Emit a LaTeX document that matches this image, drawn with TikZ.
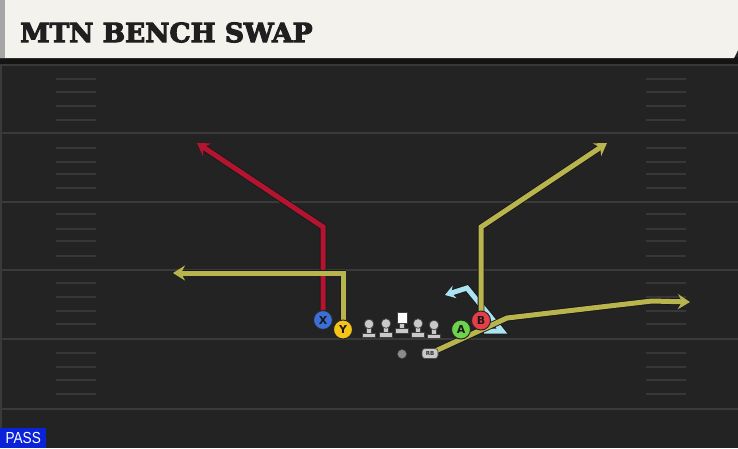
\documentclass[tikz,border=0pt]{standalone}
\usepackage{fontspec}
\usetikzlibrary{arrows.meta}
\setmainfont{DejaVu Sans}
\newfontfamily\titlefont[BoldFeatures={FakeBold=4}]{DejaVu Serif}
\newfontfamily\passfont{Liberation Sans}
\definecolor{fieldbg}{HTML}{232323}
\definecolor{yardline}{HTML}{3A3A3A}
\definecolor{hashc}{HTML}{373737}
\definecolor{headerbg}{HTML}{F4F2EC}
\definecolor{routered}{HTML}{B3142F}
\definecolor{routeyel}{HTML}{B9B54E}
\definecolor{routecyan}{HTML}{ABE3F2}
\definecolor{xblue}{HTML}{3C6FD6}
\definecolor{yyellow}{HTML}{F4C418}
\definecolor{agreen}{HTML}{6CD34B}
\definecolor{bred}{HTML}{E63E48}
\definecolor{lmgray}{HTML}{C9C9C9}
\definecolor{passblue}{HTML}{0A22D8}
\pgfdeclarelayer{fieldlayer}
\pgfdeclarelayer{routelayer}
\pgfsetlayers{fieldlayer,routelayer,main}
\tikzset{
  yard/.style={draw=yardline, line width=2pt},
  hashmark/.style={draw=hashc, line width=1.8pt},
  route/.style={line width=5pt, line join=miter, line cap=butt,
    preaction={draw=black!90, line width=6.8pt}},
  tip/.style={-{Stealth[length=12pt,width=15pt,inset=4pt]}},
  smalltip/.style={-{Stealth[length=10pt,width=13pt,inset=3.5pt]}},
  player/.style={circle, draw=black!85, line width=1pt, minimum size=19pt,
    inner sep=0pt, text=black!90, font=\bfseries\fontsize{11}{11}\selectfont},
  lm/.style={fill=lmgray, draw=black!75, line width=0.7pt},
  lineman/.pic={
    \filldraw[lm] (-6.5,0) rectangle (6.5,-4.5);
    \filldraw[lm] (-2.5,-4.5) rectangle (2.5,-11);
    \filldraw[lm] (0,-13.5) circle (4.8pt);
  },
  centerman/.pic={
    \filldraw[lm] (-6.5,0) rectangle (6.5,-4.5);
    \filldraw[lm] (-2.5,-4.5) rectangle (2.5,-10);
    \filldraw[fill=white, draw=black!75, line width=0.7pt] (-5,-10) rectangle (5,-20.5);
  }
}
\begin{document}
\begin{tikzpicture}[x=1pt,y=-1pt]
\useasboundingbox (0,0) rectangle (738,448);
\begin{pgfonlayer}{fieldlayer}
  % field
  \fill[fieldbg] (0,0) rectangle (738,448);
  \fill[black!92] (0,57) rectangle (738,64);
  \draw[draw=black!78, line width=1.5pt] (0,65) -- (738,65);
  \draw[draw=yardline, line width=2pt] (1,65) -- (1,448);
  \foreach \yy in {133,202,270,339,409} \draw[yard] (0,\yy) -- (738,\yy);
  \foreach \yy in {79,92,106,120,148,162,174,188,214,229,241,256,283,297,311,324,353,367,380,394} {
    \draw[hashmark] (56,\yy) -- (96,\yy);
    \draw[hashmark] (646,\yy) -- (686,\yy);
  }
  % header
  \fill[headerbg] (0,0) -- (738,0) -- (738,50) -- (734,58) -- (0,58) -- cycle;
  \fill[black!35] (0,0) rectangle (5,58);
\end{pgfonlayer}

\node[anchor=west, inner sep=0pt, text=black!88] (title) at (20,32.5)
  {\titlefont\bfseries\fontsize{26.5}{26.5}\selectfont MTN BENCH SWAP};

% players
\node[player, fill=xblue] (X) at (323,320) {X};
\node[player, fill=yyellow] (Y) at (343,329.5) {Y};
\node[player, fill=agreen] (A) at (461,329.5) {A};
\node[player, fill=bred] (B) at (481,320.5) {B};
\pic at (369,337.5) {lineman};
\pic at (386,337) {lineman};
\pic at (402,333) {centerman};
\pic at (418,337) {lineman};
\pic at (434,338.5) {lineman};
\node[circle, fill=black!45, draw=black!70, line width=0.5pt, minimum size=9pt, inner sep=0pt] (QB) at (402,354) {};
\node[fill=lmgray, draw=black!70, line width=0.7pt, rounded corners=3pt,
  minimum width=16pt, minimum height=10pt, inner sep=0pt,
  font=\bfseries\fontsize{5.5}{5.5}\selectfont, text=black!80] (RB) at (430,353.5) {RB};

% route coordinates
\coordinate (xc) at (323,227);
\coordinate (xe) at (197,143);
\coordinate (yc) at (343,273);
\coordinate (ye) at (173,273);
\coordinate (bc) at (481,227);
\coordinate (be) at (607,143);
\coordinate (r1) at (507,318);
\coordinate (r2) at (652,301);
\coordinate (re) at (690,302);
\coordinate (c0) at (484,331);
\coordinate (c1) at (502,331);
\coordinate (c2) at (467,288);
\coordinate (ce) at (445,295);

\begin{pgfonlayer}{routelayer}
  \draw[route, routecyan, smalltip] (c0) -- (c1) -- (c2) -- (ce);
  \draw[route, routered, tip] (X.center) -- (xc) -- (xe);
  \draw[route, routeyel, tip] (Y.center) -- (yc) -- (ye);
  \draw[route, routeyel, tip] (B.center) -- (bc) -- (be);
  \draw[route, routeyel, tip] (RB.center) -- (r1) -- (r2) -- (re);
\end{pgfonlayer}

% pass label
\node[fill=passblue, anchor=south west, minimum width=46pt, minimum height=20pt, inner sep=0pt,
  text=white, font=\passfont\fontsize{16}{16}\selectfont] (pass) at (0,448) {\scalebox{0.85}[1]{PASS}};
\end{tikzpicture}
\end{document}
